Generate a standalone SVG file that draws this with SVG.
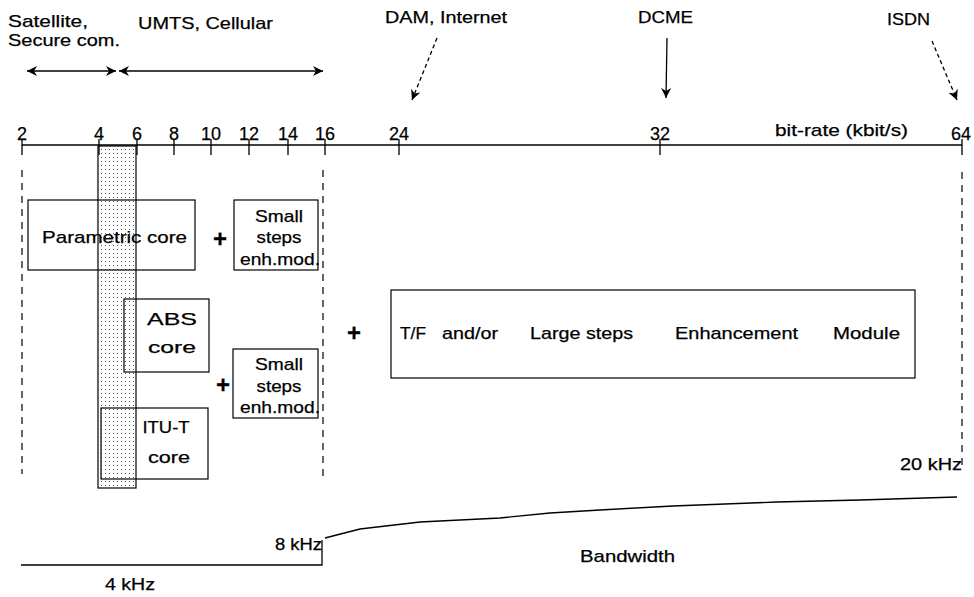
<svg xmlns="http://www.w3.org/2000/svg" width="974" height="597" viewBox="0 0 974 597">
<style>
text{font-family:"Liberation Sans",Arial,sans-serif;font-size:17px;fill:#000;stroke:#000;stroke-width:0.25}
.num{font-size:18px;text-anchor:middle}
.c{text-anchor:middle}
.box{fill:none;stroke:#000;stroke-width:1.2}
.ln{fill:none;stroke:#000;stroke-width:1.3}
.dash{fill:none;stroke:#000;stroke-width:1.2;stroke-dasharray:7,6}
.plus{font-size:24px;font-weight:bold;text-anchor:middle}
</style>
<defs>
<pattern id="dots" width="4" height="4" patternUnits="userSpaceOnUse">
<rect width="4" height="4" fill="#fff"/>
<rect x="1" y="1" width="1" height="1" fill="#555"/>
</pattern>
<marker id="ah" viewBox="0 0 12 12" refX="11" refY="6" markerWidth="12" markerHeight="12" markerUnits="userSpaceOnUse" orient="auto-start-reverse">
<path d="M1,1 L11,6 L1,11 L4,6 Z" fill="#000"/>
</marker>
</defs>

<g id="shade">
<rect x="98" y="146" width="38" height="342" fill="url(#dots)" stroke="#000" stroke-width="1.2"/>
</g>

<g id="labels-top">
<text x="8" y="27" textLength="80" lengthAdjust="spacingAndGlyphs">Satellite,</text>
<text x="8" y="46" textLength="112" lengthAdjust="spacingAndGlyphs">Secure com.</text>
<text x="138" y="29" textLength="135" lengthAdjust="spacingAndGlyphs">UMTS, Cellular</text>
<text x="385" y="23" textLength="122" lengthAdjust="spacingAndGlyphs">DAM, Internet</text>
<text x="638" y="23" textLength="55" lengthAdjust="spacingAndGlyphs">DCME</text>
<text x="887" y="25" textLength="43" lengthAdjust="spacingAndGlyphs">ISDN</text>
</g>

<g id="axis">
<line class="ln" x1="22" y1="145" x2="962" y2="145"/>
<path class="ln" d="M22,139V155 M99,139V155 M137,139V155 M174,139V155 M211,139V155 M249,139V155 M288,139V155 M325,139V155 M399,139V155 M660,139V155 M962,139V155"/>
<text class="num" x="22" y="140">2</text>
<text class="num" x="99" y="140">4</text>
<text class="num" x="137" y="140">6</text>
<text class="num" x="174" y="140">8</text>
<text class="num" x="211" y="140">10</text>
<text class="num" x="249" y="140">12</text>
<text class="num" x="288" y="140">14</text>
<text class="num" x="325" y="140">16</text>
<text class="num" x="399" y="140">24</text>
<text class="num" x="660" y="140">32</text>
<text class="num" x="961" y="140">64</text>
<text x="775" y="136" textLength="133" lengthAdjust="spacingAndGlyphs">bit-rate (kbit/s)</text>
</g>

<g id="connectors">
<line class="ln" x1="27" y1="71" x2="116" y2="71" marker-start="url(#ah)" marker-end="url(#ah)"/>
<line class="ln" x1="119" y1="71" x2="323" y2="71" marker-start="url(#ah)" marker-end="url(#ah)"/>
<line class="ln" x1="437" y1="38" x2="412" y2="100" stroke-dasharray="4,3" marker-end="url(#ah)"/>
<line class="ln" x1="667" y1="38" x2="666" y2="98" marker-end="url(#ah)"/>
<line class="ln" x1="932" y1="41" x2="957" y2="100" stroke-dasharray="4,3" marker-end="url(#ah)"/>
<line class="dash" x1="22" y1="170" x2="22" y2="474"/>
<line class="dash" x1="323" y1="170" x2="323" y2="476"/>
<line class="dash" x1="962" y1="172" x2="962" y2="466"/>
</g>

<g id="parametric">
<rect class="box" x="28" y="200" width="167" height="70"/>
<text x="42" y="243" textLength="145" lengthAdjust="spacingAndGlyphs">Parametric core</text>
</g>
<g id="plus1"><text class="plus" x="220" y="247">+</text></g>
<g id="small1">
<rect class="box" x="234" y="200" width="84" height="70"/>
<text class="c" x="279" y="222" textLength="48" lengthAdjust="spacingAndGlyphs">Small</text>
<text class="c" x="279" y="243" textLength="45" lengthAdjust="spacingAndGlyphs">steps</text>
<text class="c" x="280" y="265" textLength="80" lengthAdjust="spacingAndGlyphs">enh.mod.</text>
</g>

<g id="abs">
<rect class="box" x="124" y="299" width="85" height="73"/>
<text class="c" x="172" y="325" textLength="50" lengthAdjust="spacingAndGlyphs">ABS</text>
<text class="c" x="172" y="353" textLength="48" lengthAdjust="spacingAndGlyphs">core</text>
</g>
<g id="plus2"><text class="plus" x="223" y="393">+</text></g>
<g id="small2">
<rect class="box" x="233" y="349" width="85" height="69"/>
<text class="c" x="279" y="370" textLength="48" lengthAdjust="spacingAndGlyphs">Small</text>
<text class="c" x="279" y="392" textLength="45" lengthAdjust="spacingAndGlyphs">steps</text>
<text class="c" x="280" y="413" textLength="80" lengthAdjust="spacingAndGlyphs">enh.mod.</text>
</g>

<g id="itut">
<rect class="box" x="101" y="408" width="107" height="71"/>
<text class="c" x="166" y="433" textLength="47" lengthAdjust="spacingAndGlyphs">ITU-T</text>
<text class="c" x="169" y="463" textLength="42" lengthAdjust="spacingAndGlyphs">core</text>
</g>

<g id="plus3"><text class="plus" x="354" y="341">+</text></g>
<g id="large">
<rect class="box" x="391" y="290" width="524" height="88"/>
<text x="400" y="339" textLength="26" lengthAdjust="spacingAndGlyphs">T/F</text>
<text x="442" y="339" textLength="56" lengthAdjust="spacingAndGlyphs">and/or</text>
<text x="530" y="339" textLength="103" lengthAdjust="spacingAndGlyphs">Large steps</text>
<text x="675" y="339" textLength="123" lengthAdjust="spacingAndGlyphs">Enhancement</text>
<text x="833" y="339" textLength="67" lengthAdjust="spacingAndGlyphs">Module</text>
</g>

<g id="bandwidth">
<path class="ln" d="M21,565 H322 V540"/>
<polyline class="ln" points="325,538 360,529 420,522 500,518 550,513 600,510 673,506 777,502 860,500 957,497"/>
<text x="900" y="470" textLength="62" lengthAdjust="spacingAndGlyphs">20 kHz</text>
<text x="275" y="550" textLength="47" lengthAdjust="spacingAndGlyphs">8 kHz</text>
<text x="105" y="590" textLength="50" lengthAdjust="spacingAndGlyphs">4 kHz</text>
<text x="580" y="562" textLength="95" lengthAdjust="spacingAndGlyphs">Bandwidth</text>
</g>
</svg>
